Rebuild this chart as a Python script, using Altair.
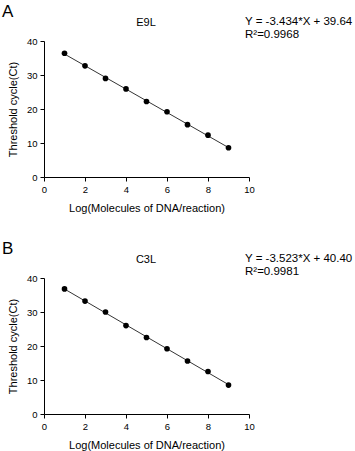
import altair as alt
import pandas as pd

log_molecules = [1, 2, 3, 4, 5, 6, 7, 8, 9]
ct_e9l = [36.4, 32.7, 29.0, 25.9, 22.2, 19.2, 15.4, 12.3, 8.6]
ct_c3l = [36.8, 33.2, 30.0, 26.0, 22.5, 19.2, 15.6, 12.5, 8.5]

x_ticks = [0, 2, 4, 6, 8, 10]
y_ticks = [0, 10, 20, 30, 40]

panels = [
    ("A", "E9L", "Y = -3.434*X + 39.64", "R²=0.9968", ct_e9l),
    ("B", "C3L", "Y = -3.523*X + 40.40", "R²=0.9981", ct_c3l),
]

FONT = "Liberation Sans"


def panel(letter, name, eq, r2, ct):
    df = pd.DataFrame({"x": log_molecules, "y": ct})
    base = alt.Chart(df)
    xenc = alt.X("x:Q", scale=alt.Scale(domain=[0, 10], nice=False),
                 axis=alt.Axis(values=x_ticks, title="Log(Molecules of DNA/reaction)"))
    yenc = alt.Y("y:Q", scale=alt.Scale(domain=[0, 40], nice=False),
                 axis=alt.Axis(values=y_ticks, title="Threshold cycle(Ct)"))
    line = base.transform_regression("x", "y").mark_line(color="black", strokeWidth=0.8).encode(x=xenc, y=yenc)
    pts = base.mark_circle(color="black", opacity=1, size=32).encode(x=xenc, y=yenc)
    letter_t = alt.Chart(pd.DataFrame({"t": [letter]})).mark_text(fontSize=17, font=FONT, align="left", baseline="top").encode(
        text="t:N", x=alt.value(-42), y=alt.value(-37))
    name_t = alt.Chart(pd.DataFrame({"t": [name]})).mark_text(fontSize=11, font=FONT, align="center", baseline="alphabetic").encode(
        text="t:N", x=alt.value(102), y=alt.value(-15))
    eq_t = alt.Chart(pd.DataFrame({"t": [eq]})).mark_text(fontSize=11.5, font=FONT, align="left", baseline="alphabetic").encode(
        text="t:N", x=alt.value(201), y=alt.value(-16))
    r2_t = alt.Chart(pd.DataFrame({"t": [r2]})).mark_text(fontSize=11.5, font=FONT, align="left", baseline="alphabetic").encode(
        text="t:N", x=alt.value(201), y=alt.value(-3))
    return alt.layer(line, pts, letter_t, name_t, eq_t, r2_t).properties(width=205, height=136)


chart = alt.vconcat(*[panel(*p) for p in panels], spacing=26).configure_view(stroke=None).configure_axis(
    domainColor="black", tickColor="black", labelColor="black", titleColor="black",
    grid=False, labelFont=FONT, titleFont=FONT, labelFontSize=9.5, titleFontSize=11,
    titleFontWeight="normal", tickSize=4, labelPadding=3, domainWidth=1, tickWidth=1,
    labelOverlap=False, labelFlush=False,
).configure_axisX(titlePadding=9).configure_axisY(titlePadding=8).properties(
    padding={"left": 2, "top": 3, "right": 0, "bottom": 0}, background="white")

chart.save("out.html", embed_options={"renderer": "svg", "actions": False})
